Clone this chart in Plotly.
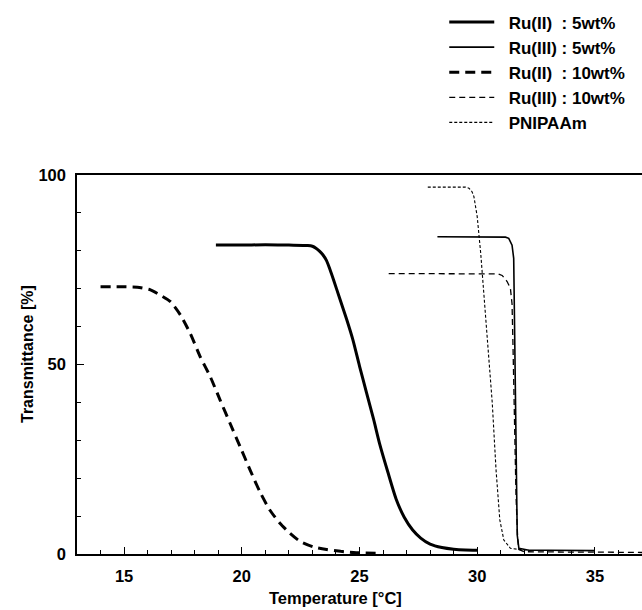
import plotly.graph_objects as go

# Ru(II) : 5wt%
ru2_5_T = [18.9, 20.0, 21.0, 22.0, 22.8, 23.0, 23.15, 23.3, 23.45, 23.6, 23.75, 23.9, 24.15, 24.45,
           24.72, 25.0, 25.3, 25.6, 25.85, 26.2, 26.55, 26.9, 27.25, 27.6, 28.0, 28.5, 29.0, 29.5, 30.0]
ru2_5_v = [81.5, 81.5, 81.6, 81.5, 81.4, 81.2, 80.7, 79.9, 78.9, 77.4, 75.0, 72.3, 67.6, 62.0,
           56.5, 49.6, 42.5, 35.5, 29.2, 21.7, 14.6, 9.7, 6.4, 4.2, 2.6, 1.7, 1.25, 1.05, 1.0]

# Ru(III) : 5wt%
ru3_5_T = [28.31, 29.0, 30.0, 30.8, 31.2, 31.34, 31.48, 31.55, 31.6, 31.65, 31.7, 31.77, 32.2, 33.0, 34.0, 35.0]
ru3_5_v = [83.7, 83.7, 83.7, 83.7, 83.6, 83.3, 81.5, 78.0, 50.0, 20.0, 5.0, 1.5, 1.0, 1.0, 1.0, 0.9]

# Ru(II) : 10wt%
ru2_10_T = [14.0, 15.0, 15.56, 16.12, 16.54, 16.97, 17.39, 17.81, 18.23, 18.66, 19.08, 19.5, 19.93,
            20.35, 20.77, 21.19, 21.62, 22.04, 22.46, 23.03, 23.6, 24.2, 24.86, 25.85]
ru2_10_v = [70.5, 70.5, 70.4, 69.7, 68.3, 66.6, 63.1, 58.2, 52.1, 46.8, 40.6, 34.5, 28.3,
            22.2, 16.4, 11.6, 8.1, 5.5, 3.4, 1.9, 1.2, 0.7, 0.35, 0.2]

# Ru(III) : 10wt%
ru3_10_T = [26.24, 27.0, 28.0, 29.0, 30.0, 30.9, 31.06, 31.27, 31.41, 31.48, 31.52, 31.58, 31.65,
            31.72, 31.77, 32.0, 33.0, 34.0, 35.0, 36.0, 37.0]
ru3_10_v = [74.0, 74.0, 74.0, 74.0, 74.0, 73.9, 73.5, 71.9, 70.1, 66.0, 55.0, 35.0, 15.0,
            4.0, 1.2, 0.6, 0.5, 0.5, 0.5, 0.4, 0.4]

# PNIPAAm
pn_T = [27.9, 28.5, 29.0, 29.5, 29.65, 29.78, 29.86, 30.0, 30.15, 30.25, 30.42, 30.64, 30.8,
        30.96, 31.13, 31.41, 31.77, 32.2]
pn_v = [96.8, 96.8, 96.8, 96.8, 96.5, 95.6, 94.3, 89.0, 79.3, 71.0, 57.3, 39.8, 22.2,
        9.0, 3.7, 1.5, 1.2, 1.0]

names = ["\u00a0\u00a0Ru(II)\u00a0\u00a0: 5wt%", "\u00a0\u00a0Ru(III) : 5wt%",
         "\u00a0\u00a0Ru(II)\u00a0\u00a0: 10wt%", "\u00a0\u00a0Ru(III) : 10wt%", "\u00a0\u00a0PNIPAAm"]

FONT = "Liberation Sans, Arial, sans-serif"

fig = go.Figure()
series = [
    (ru2_5_T, ru2_5_v, dict(color="black", width=3, dash="solid", shape="spline", smoothing=0.6)),
    (ru3_5_T, ru3_5_v, dict(color="black", width=1.6, dash="solid")),
    (ru2_10_T, ru2_10_v, dict(color="black", width=3, dash="10px,6px", shape="spline", smoothing=0.6)),
    (ru3_10_T, ru3_10_v, dict(color="black", width=1.3, dash="6px,4px")),
    (pn_T, pn_v, dict(color="black", width=1.1, dash="3px,2px")),
]
for i, (t, v, ln) in enumerate(series):
    fig.add_trace(go.Scatter(x=t, y=v, mode="lines", line=ln, name=names[i]))

fig.update_layout(
    width=642, height=610,
    margin=dict(l=77, r=0, t=175, b=56, autoexpand=False),
    plot_bgcolor="white", paper_bgcolor="white",
    font=dict(family=FONT, size=16, color="black", weight="bold"),
    showlegend=True,
    legend=dict(x=0.65, y=1.45, xanchor="left", yanchor="top",
                font=dict(family=FONT, size=17, color="black", weight="bold"),
                itemwidth=45, bgcolor="rgba(0,0,0,0)"),
    xaxis=dict(range=[13, 37], tick0=0, dtick=5, ticks="inside", ticklen=7, tickwidth=1.2,
               tickcolor="black", showline=True, linecolor="black", linewidth=1.5,
               mirror=True, showgrid=False, zeroline=False,
               tickfont=dict(family=FONT, size=16.5, weight="bold"), ticklabelstandoff=6,
               minor=dict(dtick=1, ticks="inside", ticklen=4, tickcolor="black", tickwidth=1,
                          showgrid=False)),
    yaxis=dict(range=[0, 100], tickvals=[0, 50, 100], ticks="inside", ticklen=7, tickwidth=1.2,
               tickcolor="black", showline=True, linecolor="black", linewidth=1.5,
               mirror=False, showgrid=False, zeroline=False,
               tickfont=dict(family=FONT, size=16.5, weight="bold"), ticklabelstandoff=6,
               minor=dict(dtick=10, tick0=0, ticks="inside", ticklen=4, tickcolor="black",
                          tickwidth=1, showgrid=False)),
    annotations=[
        dict(text="Temperature [°C]", xref="paper", yref="paper", x=(335 - 77) / 565,
             y=-0.115, xanchor="center", yanchor="middle", showarrow=False,
             font=dict(family=FONT, size=16.5, weight="bold")),
        dict(text="Transmittance [%]", xref="paper", yref="paper", x=(27 - 77) / 565,
             y=(554 - 354) / 379, xanchor="center", yanchor="middle", textangle=-90,
             showarrow=False, font=dict(family=FONT, size=16, weight="bold")),
    ],
)

fig.write_html("out.html", config={"displayModeBar": False},
               post_script="document.body.style.margin='0';document.body.style.overflow='hidden';")
